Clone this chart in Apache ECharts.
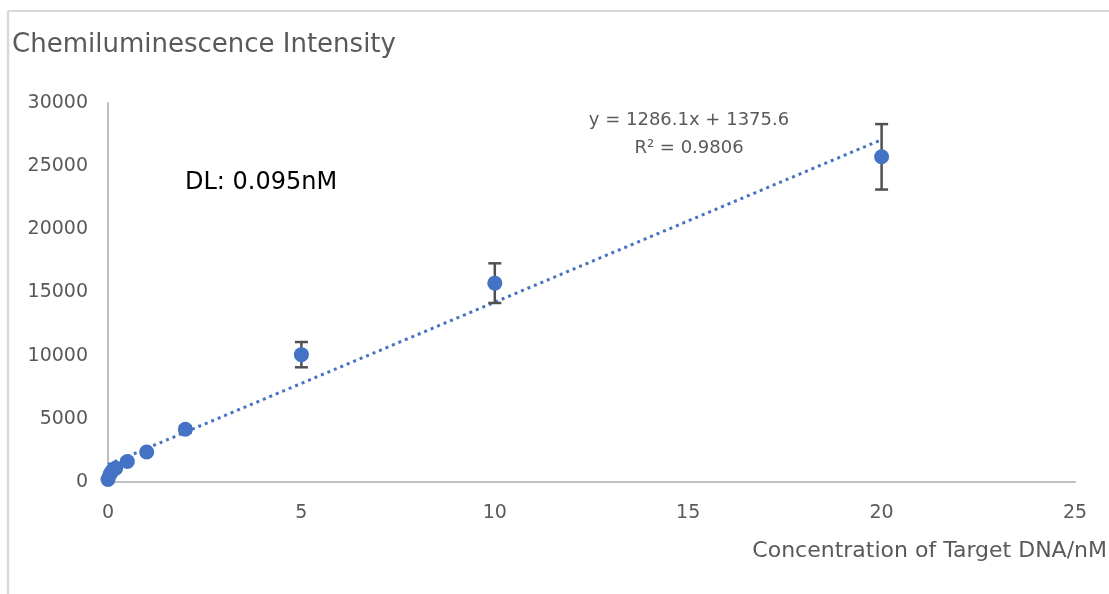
<!DOCTYPE html>
<html>
<head>
<meta charset="utf-8">
<script src="https://cdn.jsdelivr.net/npm/echarts@6/dist/echarts.min.js"></script>
<style>
html,body{margin:0;padding:0;background:#fff;}
#chart{width:1109px;height:594px;}
</style>
</head>
<body>
<div id="chart"></div>
<script>
// ---- data ----
const xValues = [0, 0.05, 0.1, 0.2, 0.5, 1, 2, 5, 10, 20];
const yValues = [200, 600, 850, 1100, 1620, 2370, 4170, 10080, 15740, 25740];
const yErrors = [100, 100, 100, 100, 150, 150, 250, 1000, 1570, 2590];
const trendX = [0, 20];
const trendY = [1375.6, 27097.6];
const titleText = 'Chemiluminescence Intensity';
const xAxisTitle = 'Concentration of Target DNA/nM';
const equationLines = ['y = 1286.1x + 1375.6', 'R² = 0.9806'];
const dlText = 'DL: 0.095nM';
const xAxisRange = [0, 25, 5];
const yAxisRange = [0, 30000, 5000];

const FONT = 'DejaVu Sans';
const points = xValues.map((x, i) => [x, yValues[i]]);
const errData = xValues.map((x, i) => [x, yValues[i], yErrors[i]]);
const trendData = trendX.map((x, i) => [x, trendY[i]]);

const chart = echarts.init(document.getElementById('chart'), null, {renderer: 'canvas'});
chart.setOption({
  animation: false,
  backgroundColor: '#ffffff',
  grid: {left: 108, right: 34, top: 103, bottom: 112, containLabel: false},
  xAxis: {
    type: 'value', min: xAxisRange[0], max: xAxisRange[1], interval: xAxisRange[2],
    axisLine: {show: true, lineStyle: {color: '#bfbfbf', width: 2}},
    axisTick: {show: false},
    splitLine: {show: false},
    axisLabel: {color: '#595959', fontFamily: FONT, fontSize: 19, margin: 22,
      formatter: function (v) { return String(v); }}
  },
  yAxis: {
    type: 'value', min: yAxisRange[0], max: yAxisRange[1], interval: yAxisRange[2],
    axisLine: {show: true, lineStyle: {color: '#bfbfbf', width: 2}},
    axisTick: {show: false},
    splitLine: {show: false},
    axisLabel: {color: '#595959', fontFamily: FONT, fontSize: 19, margin: 20,
      formatter: function (v) { return String(v); }}
  },
  graphic: [
    {type: 'line', silent: true, shape: {x1: 8, y1: 11, x2: 8, y2: 600},
     style: {stroke: '#d9d9d9', lineWidth: 2.5}, z: -10},
    {type: 'line', silent: true, shape: {x1: 8, y1: 11, x2: 1120, y2: 11},
     style: {stroke: '#d9d9d9', lineWidth: 2}, z: -10},
    {type: 'text', x: 12, y: 45, style: {text: titleText, fill: '#595959', font: '26px "DejaVu Sans"', verticalAlign: 'middle', align: 'left'}},
    {type: 'text', x: 1107, y: 551, style: {text: xAxisTitle, fill: '#595959', font: '22px "DejaVu Sans"', verticalAlign: 'middle', align: 'right'}},
    {type: 'text', x: 689, y: 120, style: {text: equationLines[0], fill: '#595959', font: '18px "DejaVu Sans"', verticalAlign: 'middle', align: 'center'}},
    {type: 'text', x: 689, y: 148, style: {text: equationLines[1], fill: '#595959', font: '18px "DejaVu Sans"', verticalAlign: 'middle', align: 'center'}},
    {type: 'text', x: 185, y: 183, style: {text: dlText, fill: '#000000', font: '24px "DejaVu Sans"', verticalAlign: 'middle', align: 'left'}}
  ],
  series: [
    {
      type: 'line', data: trendData, showSymbol: false, symbol: 'none', z: 1,
      lineStyle: {color: '#4472c4', width: 3, type: [3, 4], cap: 'butt'},
      silent: true
    },
    {
      type: 'custom', data: errData, z: 2, silent: true,
      renderItem: function (params, api) {
        const x = api.value(0), y = api.value(1), e = api.value(2);
        const top = api.coord([x, y + e]);
        const bot = api.coord([x, y - e]);
        const hw = 6.5;
        const st = {stroke: '#505050', lineWidth: 2.5};
        return {type: 'group', children: [
          {type: 'line', shape: {x1: top[0], y1: top[1], x2: bot[0], y2: bot[1]}, style: st},
          {type: 'line', shape: {x1: top[0] - hw, y1: top[1], x2: top[0] + hw, y2: top[1]}, style: st},
          {type: 'line', shape: {x1: bot[0] - hw, y1: bot[1], x2: bot[0] + hw, y2: bot[1]}, style: st}
        ]};
      }
    },
    {
      type: 'scatter', data: points, z: 3, symbol: 'circle', symbolSize: 15,
      itemStyle: {color: '#4472c4', opacity: 1}
    }
  ]
});
</script>
</body>
</html>
